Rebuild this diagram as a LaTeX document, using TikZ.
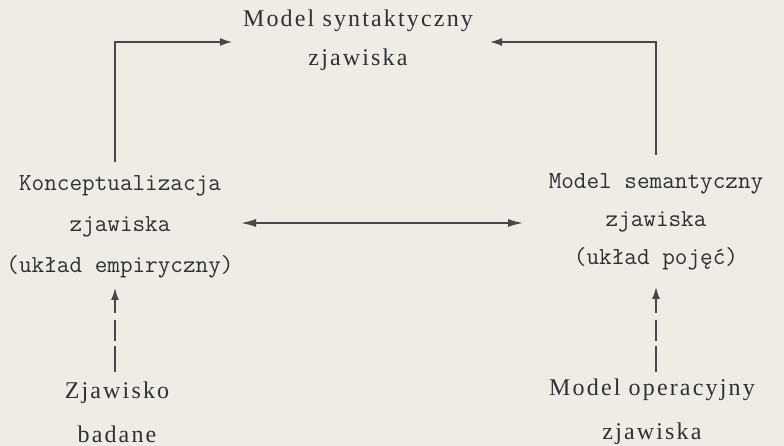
\documentclass[tikz,border=0pt]{standalone}
\usepackage{fontspec}
\usetikzlibrary{arrows.meta,calc}
\newfontfamily\serf[LetterSpace=9]{Liberation Serif}
\definecolor{paper}{HTML}{EEECE5}
\definecolor{ink}{HTML}{303030}
\definecolor{lineink}{HTML}{484848}
\begin{document}
\begin{tikzpicture}[x=1pt,y=1pt,
  mono/.style={text=ink,align=center,font=\ttfamily\fontsize{24.5}{41}\selectfont},
  serl/.style={text=ink,align=center,font=\serf\fontsize{24}{42}\selectfont},
  conn/.style={draw=lineink,line width=1.4pt,-{Latex[length=12pt,width=8pt]}},
  dconn/.style={conn,dash pattern=on 26pt off 5pt on 21pt off 7pt on 60pt},
  both/.style={draw=lineink,line width=1.4pt,{Latex[length=15pt,width=8pt]}-{Latex[length=15pt,width=8pt]}}]
\fill[paper] (0,0) rectangle (784,446);
\useasboundingbox (0,0) rectangle (784,446);
\node[serl,font=\serf\fontsize{24}{39}\selectfont] (synt) at (358,406) {Model syntaktyczny\\zjawiska};
\node[mono] (konc) at (120,219) {Konceptualizacja\\zjawiska\\(układ empiryczny)};
\node[mono,font=\ttfamily\fontsize{24.5}{38}\selectfont] (sem) at (656,224) {Model semantyczny\\zjawiska\\(układ pojęć)};
\node[serl,font=\serf\fontsize{24}{44}\selectfont] (zjaw) at (117,34) {Zjawisko\\badane};
\node[serl,font=\serf\fontsize{24}{44}\selectfont] (oper) at (652,34) {Model operacyjny\\zjawiska};
\coordinate (sL) at (232,404);
\coordinate (sR) at (490,404);
\draw[conn] ($(konc.center)+(-5,65)$) |- (sL);
\draw[conn] ($(sem.center)+(0,67)$) |- (sR);
\draw[both] ($(konc.center)+(121,4)$) -- ($(sem.center)+(-133,-1)$);
\draw[dconn] ($(zjaw.center)+(-2,40)$) -- ($(zjaw.center |- konc.center)+(-2,-61)$);
\draw[dconn] ($(oper.center)+(4,40)$) -- ($(oper.center |- sem.center)+(4,-65)$);
\end{tikzpicture}
\end{document}
